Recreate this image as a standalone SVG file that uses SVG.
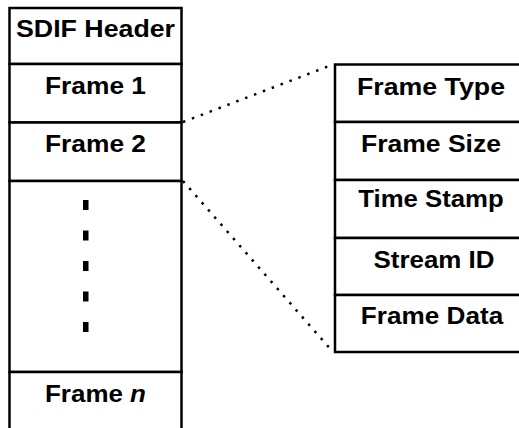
<svg xmlns="http://www.w3.org/2000/svg" width="519" height="428" viewBox="0 0 519 428">
<style>
.box{fill:#fff;stroke:#000;stroke-width:2.5}
.t{font-family:"Liberation Sans",Arial,sans-serif;font-weight:bold;font-size:24.5px;fill:#000;text-anchor:middle}
.dot{fill:#000}
.conn{fill:none;stroke:#000;stroke-width:2.5;stroke-dasharray:2.5 7;stroke-linecap:butt}
</style>
<rect width="519" height="428" fill="#fff"/>
<g id="sdif-header"><rect class="box" x="9.5" y="8" width="172" height="56"/><text class="t" x="95.5" y="37" textLength="159" lengthAdjust="spacingAndGlyphs">SDIF Header</text></g>
<g id="frame-1"><rect class="box" x="9.5" y="64" width="172" height="58.5"/><text class="t" x="95.5" y="94" textLength="101" lengthAdjust="spacingAndGlyphs">Frame 1</text></g>
<g id="frame-2"><rect class="box" x="9.5" y="122.5" width="172" height="58.5"/><text class="t" x="95.5" y="152" textLength="101" lengthAdjust="spacingAndGlyphs">Frame 2</text></g>
<g id="ellipsis"><rect class="box" x="9.5" y="181" width="172" height="191"/>
<rect class="dot" x="83" y="200" width="5.5" height="10"/>
<rect class="dot" x="83" y="230.5" width="5.5" height="10"/>
<rect class="dot" x="83" y="261" width="5.5" height="10"/>
<rect class="dot" x="83" y="291.5" width="5.5" height="10"/>
<rect class="dot" x="83" y="322" width="5.5" height="10"/></g>
<g id="frame-n"><rect class="box" x="9.5" y="372" width="172" height="70"/><text class="t" x="95.5" y="401.5" textLength="101" lengthAdjust="spacingAndGlyphs">Frame <tspan font-style="italic">n</tspan></text></g>
<g id="frame-type"><rect class="box" x="335" y="64.5" width="200" height="57.5"/><text class="t" x="431" y="95" textLength="148" lengthAdjust="spacingAndGlyphs">Frame Type</text></g>
<g id="frame-size"><rect class="box" x="335" y="122" width="200" height="58"/><text class="t" x="431" y="151.5" textLength="140" lengthAdjust="spacingAndGlyphs">Frame Size</text></g>
<g id="time-stamp"><rect class="box" x="335" y="180" width="200" height="58"/><text class="t" x="431" y="207" textLength="145.5" lengthAdjust="spacingAndGlyphs">Time Stamp</text></g>
<g id="stream-id"><rect class="box" x="335" y="238" width="200" height="57"/><text class="t" x="434" y="268" textLength="121" lengthAdjust="spacingAndGlyphs">Stream ID</text></g>
<g id="frame-data"><rect class="box" x="335" y="295" width="200" height="57"/><text class="t" x="432" y="324" textLength="142.5" lengthAdjust="spacingAndGlyphs">Frame Data</text></g>
<g id="connectors">
<line class="conn" x1="183" y1="122" x2="333" y2="64.5"/>
<line class="conn" x1="183" y1="181" x2="333" y2="352"/>
</g>
</svg>
